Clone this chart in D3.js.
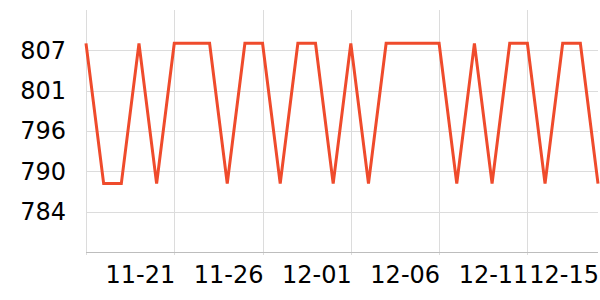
<!DOCTYPE html>
<html>
<head>
<meta charset="utf-8">
<script src="https://cdn.jsdelivr.net/npm/d3@7"></script>
<style>
  body { margin: 0; background: #fff; }
  svg { display: block; font-family: "DejaVu Sans", sans-serif; }
</style>
</head>
<body>
<div id="chart"></div>
<script>
// Daily values, 11-16 .. 12-15
const dates = ["11-16", "11-17", "11-18", "11-19", "11-20", "11-21", "11-22", "11-23", "11-24", "11-25",
  "11-26", "11-27", "11-28", "11-29", "11-30", "12-01", "12-02", "12-03", "12-04", "12-05",
  "12-06", "12-07", "12-08", "12-09", "12-10", "12-11", "12-12", "12-13", "12-14", "12-15"];
const values = [808, 788, 788, 808, 788, 808, 808, 808, 788, 808,
  808, 788, 808, 808, 788, 808, 788, 808, 808, 808,
  808, 788, 808, 788, 808, 808, 788, 808, 808, 788];
const xTickLabels = ["11-21", "11-26", "12-01", "12-06", "12-11", "12-15"];
const xGridDates = ["11-16", "11-21", "11-26", "12-01", "12-06", "12-11"];
const yTicks = [784, 789.75, 795.5, 801.25, 807];
const yDomain = [778.25, 812.75];

const width = 600;
const height = 300;
const margin = { top: 10, right: 2, bottom: 48, left: 86 };

const svg = d3.select("#chart").append("svg")
  .attr("width", width)
  .attr("height", height);

const x = d3.scalePoint()
  .domain(dates)
  .range([margin.left, width - margin.right]);

const y = d3.scaleLinear()
  .domain(yDomain)
  .range([height - margin.bottom, margin.top]);

// horizontal grid lines
svg.append("g")
  .selectAll("line")
  .data(yTicks)
  .join("line")
  .attr("x1", margin.left)
  .attr("x2", width - margin.right)
  .attr("y1", d => Math.round(y(d)) + 0.5)
  .attr("y2", d => Math.round(y(d)) + 0.5)
  .attr("stroke", "#dcdcdc");

// vertical grid lines
svg.append("g")
  .selectAll("line")
  .data(xGridDates)
  .join("line")
  .attr("x1", d => Math.round(x(d)) + 0.5)
  .attr("x2", d => Math.round(x(d)) + 0.5)
  .attr("y1", margin.top)
  .attr("y2", height - margin.bottom + 3)
  .attr("stroke", "#dcdcdc");

// x axis line
svg.append("line")
  .attr("x1", margin.left)
  .attr("x2", width - margin.right)
  .attr("y1", height - margin.bottom + 0.5)
  .attr("y2", height - margin.bottom + 0.5)
  .attr("stroke", "#bdbdbd");

// y labels
svg.append("g")
  .selectAll("text")
  .data(yTicks)
  .join("text")
  .attr("x", 66)
  .attr("y", d => y(d))
  .attr("dy", "0.35em")
  .attr("text-anchor", "end")
  .attr("font-size", 24)
  .attr("fill", "#000")
  .text(d => d3.format(".0f")(d));

// x labels, right-aligned at their tick
svg.append("g")
  .selectAll("text")
  .data(xTickLabels)
  .join("text")
  .attr("x", d => x(d) + 1)
  .attr("y", 283)
  .attr("text-anchor", "end")
  .attr("font-size", 24)
  .attr("fill", "#000")
  .text(d => d);

// line
const line = d3.line()
  .x((d, i) => x(dates[i]))
  .y(d => y(d));

svg.append("path")
  .datum(values)
  .attr("fill", "none")
  .attr("stroke", "#ef4b2c")
  .attr("stroke-width", 3)
  .attr("stroke-linejoin", "miter")
  .attr("d", line);
</script>
</body>
</html>
